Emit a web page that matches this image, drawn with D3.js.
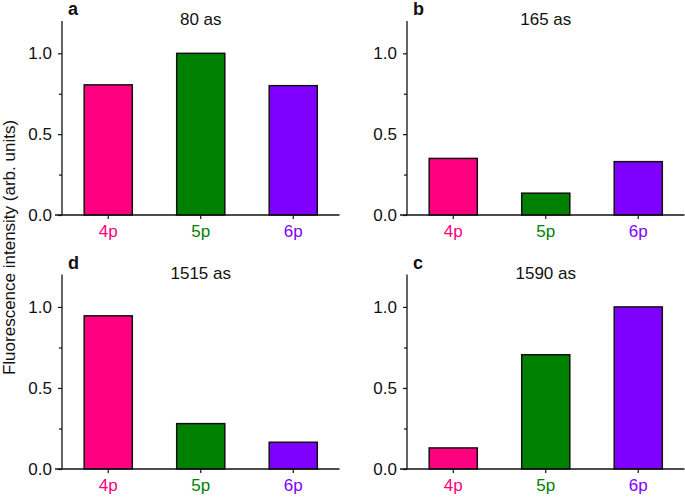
<!DOCTYPE html>
<html>
<head>
<meta charset="utf-8">
<script src="https://cdn.jsdelivr.net/npm/d3@7"></script>
<style>
html,body{margin:0;padding:0;background:#fff;}
svg{display:block;}
text{font-family:"Liberation Sans",Arial,Helvetica,sans-serif;}
</style>
</head>
<body>
<svg id="chart" width="685" height="497"></svg>
<script>
// ---- data ----
const categories = ["4p", "5p", "6p"];
const colors = ["#ff0080", "#008000", "#8000ff"];
const panelLabels = ["a", "b", "d", "c"];
const panelTitles = ["80 as", "165 as", "1515 as", "1590 as"];
const valuesA = [0.805, 1.0, 0.80];
const valuesB = [0.35, 0.135, 0.33];
const valuesD = [0.945, 0.28, 0.165];
const valuesC = [0.13, 0.705, 1.0];
const yTicks = [0, 0.5, 1.0];
const yMinorTicks = [0.25, 0.75];
const yLabel = "Fluorescence intensity (arb. units)";

const panelValues = [valuesA, valuesB, valuesD, valuesC];

// ---- layout ----
const svg = d3.select("#chart");
const layouts = [
  {x0: 62, x1: 339.5, yBase: 215, yTop: 21},
  {x0: 407, x1: 684.5, yBase: 215, yTop: 21},
  {x0: 62, x1: 339.5, yBase: 469, yTop: 274.5},
  {x0: 407, x1: 684.5, yBase: 469, yTop: 274.5}
];
const FS = 17;

layouts.forEach((L, i) => {
  const g = svg.append("g");
  const x = d3.scaleBand().domain(categories).range([L.x0, L.x1])
    .paddingInner(0.48).paddingOuter(0.24);
  const y = d3.scaleLinear().domain([0, 1.2]).range([L.yBase, L.yTop]);

  // bars
  g.selectAll("rect.bar").data(panelValues[i]).enter().append("rect")
    .attr("class", "bar")
    .attr("x", (d, j) => x(categories[j]))
    .attr("width", x.bandwidth())
    .attr("y", d => y(d))
    .attr("height", d => y(0) - y(d))
    .attr("fill", (d, j) => colors[j])
    .attr("stroke", "#111")
    .attr("stroke-width", 1.5);

  // y axis
  const yAxis = g.append("g").attr("transform", `translate(${L.x0},0)`)
    .call(d3.axisLeft(y).tickValues(yTicks).tickSize(4).tickPadding(6)
      .tickFormat(d3.format(".1f")));
  yAxis.select(".domain").attr("d", `M0,${y(1.2)}V${y(0)}`).attr("stroke", "#111").attr("stroke-width", 1.3);
  yAxis.selectAll(".tick line").attr("stroke", "#111").attr("stroke-width", 1.2);
  yAxis.selectAll(".tick text").attr("font-size", FS).attr("fill", "#111")
    .attr("font-family", "'Liberation Sans', Arial, sans-serif");
  const yMinor = g.append("g").attr("transform", `translate(${L.x0},0)`)
    .call(d3.axisLeft(y).tickValues(yMinorTicks).tickSize(3).tickFormat(""));
  yMinor.select(".domain").remove();
  yMinor.selectAll(".tick line").attr("stroke", "#111").attr("stroke-width", 1.2);

  // x axis
  const xAxis = g.append("g").attr("transform", `translate(0,${L.yBase})`)
    .call(d3.axisBottom(x).tickSize(4).tickPadding(6));
  xAxis.select(".domain").attr("d", `M${L.x0 - 7},0H${L.x1}`).attr("stroke", "#111").attr("stroke-width", 1.3);
  xAxis.selectAll(".tick line").attr("stroke", "#111").attr("stroke-width", 1.2);
  xAxis.selectAll(".tick text").attr("font-size", FS)
    .attr("font-family", "'Liberation Sans', Arial, sans-serif")
    .attr("fill", (d, j) => colors[j]);

  // title
  g.append("text").attr("x", (L.x0 + L.x1) / 2).attr("y", L.yTop + 4)
    .attr("text-anchor", "middle").attr("font-size", FS).attr("fill", "#111")
    .text(panelTitles[i]);
  // panel label
  g.append("text").attr("x", L.x0 + 6).attr("y", L.yTop - 6)
    .attr("font-size", 18).attr("font-weight", "bold").attr("fill", "#111")
    .text(panelLabels[i]);
});

svg.append("text")
  .attr("transform", "translate(15,247.5) rotate(-90)")
  .attr("text-anchor", "middle").attr("font-size", 17).attr("fill", "#111")
  .text(yLabel);
</script>
</body>
</html>
